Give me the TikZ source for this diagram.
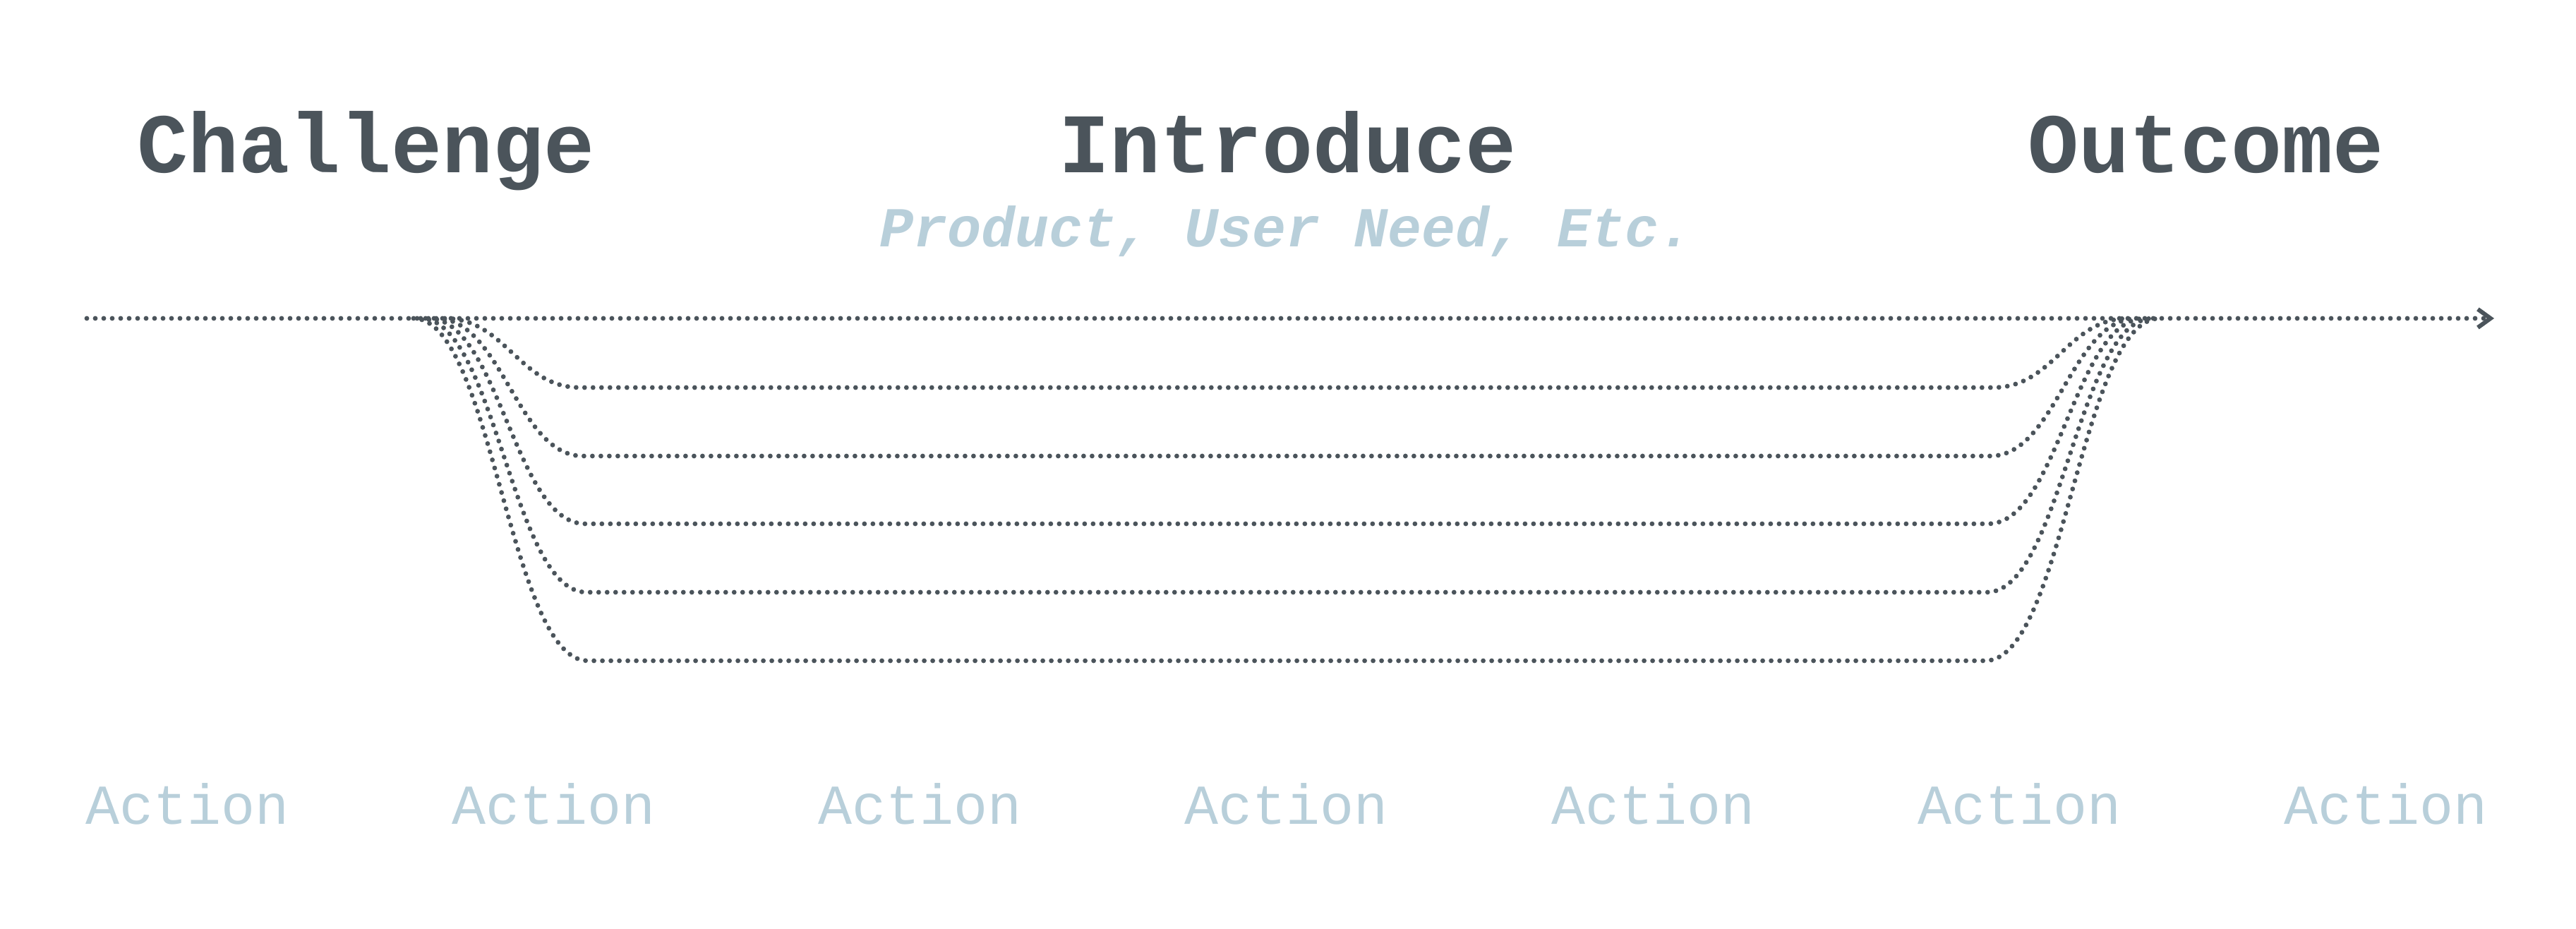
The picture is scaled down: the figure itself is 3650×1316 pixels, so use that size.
\documentclass[tikz,border=0pt]{standalone}
\usepackage{fontspec}
\setmonofont{Liberation Mono}
\usetikzlibrary{arrows.meta}
\definecolor{ink}{HTML}{4B545B}
\definecolor{pale}{HTML}{B8CFDA}
\begin{document}
\begin{tikzpicture}[x=0.25pt,y=-0.25pt,
  dotline/.style={draw=ink, line width=1.7pt, line cap=round, dash pattern=on 0pt off 3pt},
  head/.style={font=\ttfamily\bfseries\fontsize{30pt}{36pt}\selectfont, text=ink, anchor=base, inner sep=0pt},
  sub/.style={font=\ttfamily\bfseries\itshape\fontsize{20pt}{24pt}\selectfont, text=pale, anchor=base, inner sep=0pt},
  act/.style={font=\ttfamily\fontsize{20pt}{24pt}\selectfont, text=pale, anchor=base, inner sep=0pt}]
\useasboundingbox (0,0) rectangle (3650,1316);
% headings
\node[head] (challenge) at (519,245) {Challenge};
\node[head] (introduce) at (1825,245) {Introduce};
\node[head] (outcome) at (3125,245) {Outcome};
\node[sub] (product) at (1823,350) {Product, User Need, Etc.};
% actions
\foreach \k in {0,...,6} {
  \node[act] (action\k) at (266+519*\k,1167) {Action};
}
% main line
\coordinate (mstart) at (123,451);
\coordinate (mend) at (3534,451);
\draw[dotline, -{Straight Barb[length=4.5pt,width=6.5pt,line width=1.5pt]}] (mstart) -- (mend);
% branches
\foreach \i/\xs/\xe/\yl in {1/630/822/549, 2/618/826/646, 3/607/829/742, 4/596/831/839, 5/586/833/936} {
  \pgfmathsetmacro\c{0.45*(\xe-\xs)}
  \coordinate (L\i) at (\xs,451);
  \coordinate (A\i) at (\xe,\yl);
  \coordinate (B\i) at (3646-\xe,\yl);
  \coordinate (R\i) at (3646-\xs,451);
  \draw[dotline] (L\i) .. controls (\xs+\c,451) and (\xe-\c,\yl) .. (A\i)
     -- (B\i) .. controls (3646-\xe+\c,\yl) and (3646-\xs-\c,451) .. (R\i);
}
\end{tikzpicture}
\end{document}
